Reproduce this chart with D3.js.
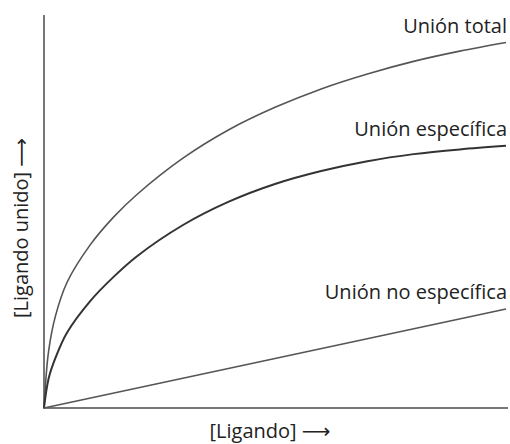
<!DOCTYPE html>
<html>
<head>
<meta charset="utf-8">
<script src="https://cdn.jsdelivr.net/npm/d3@7"></script>
<style>
  body { margin: 0; background: #fff; }
  text { font-family: "Open Sans", "DejaVu Sans", sans-serif; fill: #222; }
</style>
</head>
<body>
<svg id="chart"></svg>
<script>
// [Ligando] sample points, arbitrary units
const ligand = [0, 0.1, 0.25, 0.5, 1, 1.5, 2, 3, 4, 5, 6, 7, 8, 9, 10]

// bound ligand
const totalBinding    = [0, 1.45, 2.35, 3.20, 4.15, 4.85, 5.42, 6.35, 7.08, 7.65, 8.12, 8.50, 8.82, 9.08, 9.30]
const specificBinding = [0, 0.75, 1.28, 1.92, 2.72, 3.33, 3.85, 4.65, 5.25, 5.70, 6.03, 6.28, 6.46, 6.58, 6.67]
const nonspecificX = [0, 10]
const nonspecificBinding = [0, 2.52]

const curveLabels = ["Unión total", "Unión específica", "Unión no específica"]

const width = 510
const height = 444

const svg = d3.select('#chart')
  .attr('width', width)
  .attr('height', height)

const x = d3.scaleLinear().domain([0, 10]).range([44, 506])
const y = d3.scaleLinear().domain([0, 10]).range([408, 15])

const line = d3.line()
  .x(d => x(d[0]))
  .y(d => y(d[1]))
  .curve(d3.curveCatmullRom.alpha(0.5))

const series = [
  { name: curveLabels[0], pts: d3.zip(ligand, totalBinding), w: 1.6, col: '#555' },
  { name: curveLabels[1], pts: d3.zip(ligand, specificBinding), w: 2, col: '#333' },
  { name: curveLabels[2], pts: d3.zip(nonspecificX, nonspecificBinding), w: 1.6, col: '#555' }
]

// axes, no ticks
svg.append('line')
  .attr('x1', x(0)).attr('x2', x(0))
  .attr('y1', y(0) + 1).attr('y2', y(10))
  .attr('stroke', '#777').attr('stroke-width', 2)
svg.append('line')
  .attr('x1', x(0) - 1).attr('x2', x(10) + 2)
  .attr('y1', y(0)).attr('y2', y(0))
  .attr('stroke', '#777').attr('stroke-width', 2)

svg.selectAll('path.curve')
  .data(series)
  .join('path')
    .attr('class', 'curve')
    .attr('d', d => line(d.pts))
    .attr('fill', 'none')
    .attr('stroke', d => d.col)
    .attr('stroke-width', d => d.w)

// labels sit just above the right end of each curve
svg.selectAll('text.lbl')
  .data(series)
  .join('text')
    .attr('class', 'lbl')
    .attr('x', 507)
    .attr('y', d => y(d.pts[d.pts.length - 1][1]) - 10)
    .attr('text-anchor', 'end')
    .attr('font-size', 20)
    .text(d => d.name)

svg.append('text')
  .attr('x', 270)
  .attr('y', 438)
  .attr('text-anchor', 'middle')
  .attr('font-size', 20)
  .text('[Ligando] \u27F6')

svg.append('text')
  .attr('transform', 'translate(28,228) rotate(-90)')
  .attr('text-anchor', 'middle')
  .attr('font-size', 20)
  .text('[Ligando unido] \u27F6')
</script>
</body>
</html>
